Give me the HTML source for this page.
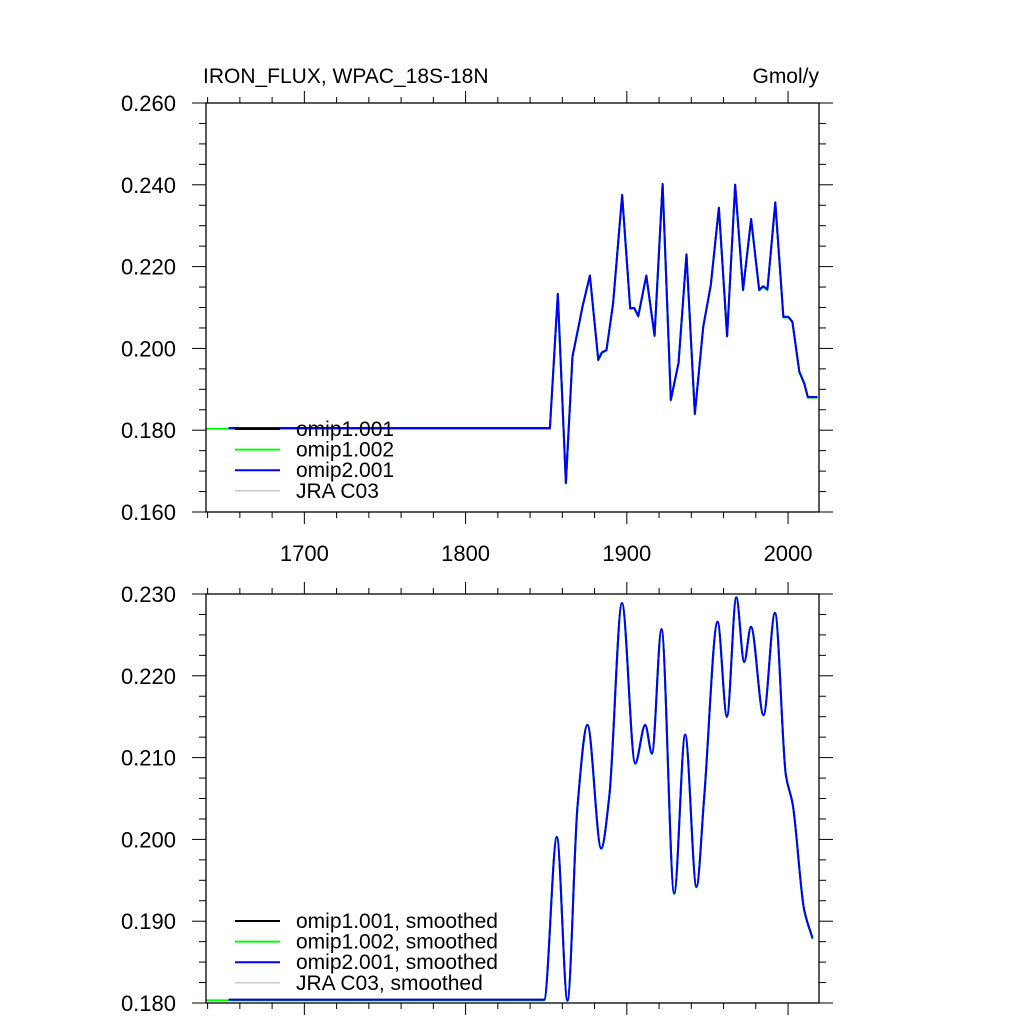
<!DOCTYPE html>
<html><head><meta charset="utf-8"><style>
html,body{margin:0;padding:0;background:#fff;}
svg{display:block;font-family:"Liberation Sans",Arial,sans-serif;}
</style></head><body>
<svg id="chart" width="1024" height="1024" viewBox="0 0 1024 1024" xmlns="http://www.w3.org/2000/svg">
<rect width="1024" height="1024" fill="#fff"/>
<text x="203" y="83" font-size="21">IRON_FLUX, WPAC_18S-18N</text>
<text x="819" y="83" font-size="21" text-anchor="end">Gmol/y</text>
<g id="top"></g><g id="bot"></g>
</svg>
<script>
const topYears=[1639,1653,1852.3,1857.2,1862.2,1866.3,1870.5,1872.5,1877.1,1882.3,1884.5,1887.4,1891.5,1897.1,1902.1,1904.6,1907.1,1912.1,1917.2,1922.2,1927.3,1932.1,1937.0,1942.2,1947.4,1952.1,1957.1,1962.2,1967.2,1972.1,1977.1,1982.1,1984.6,1987.2,1992.1,1997.1,2000.2,2002.7,2007,2010,2012.3,2018.2];
const topValues=[0.1805,0.1805,0.1805,0.2133,0.1671,0.1980,0.2062,0.2102,0.2178,0.1972,0.1990,0.1996,0.2110,0.2375,0.2098,0.2099,0.2079,0.2178,0.2031,0.2402,0.1874,0.1965,0.2230,0.1840,0.2053,0.2155,0.2344,0.2030,0.2400,0.2143,0.2316,0.2143,0.2152,0.2144,0.2357,0.2077,0.2077,0.2065,0.1943,0.1915,0.1881,0.1881];
const botYears=[1639,1653,1848.7,1856.6,1863.2,1869.4,1875.6,1884.1,1889.1,1897.0,1905.2,1911.4,1915.6,1921.5,1929.4,1936.2,1943.2,1948,1956.3,1962.1,1967.9,1972.8,1977,1984.8,1991.9,1998.7,2002.8,2010,2015.2];
const botValues=[0.1804,0.1804,0.1804,0.2003,0.1803,0.2040,0.2140,0.1989,0.2052,0.2289,0.2093,0.2140,0.2105,0.2257,0.1934,0.2128,0.1942,0.2052,0.2266,0.2150,0.2296,0.2217,0.2260,0.2152,0.2277,0.2078,0.2044,0.1914,0.1879];
const xTicks=[1700,1800,1900,2000];
const topYTicks=[0.160,0.180,0.200,0.220,0.240,0.260];
const botYTicks=[0.180,0.190,0.200,0.210,0.220,0.230];
const topLegend=["omip1.001","omip1.002","omip2.001","JRA C03"];
const botLegend=["omip1.001, smoothed","omip1.002, smoothed","omip2.001, smoothed","JRA C03, smoothed"];
const colors=["#000","#00ff00","#0000ff","#c8c8c8"];
const NS="http://www.w3.org/2000/svg";
const X0=206,X1=819,YMIN=1639,YMAX=2019.2;
function xs(y){return X0+(y-YMIN)/(YMAX-YMIN)*(X1-X0);}
function mk(p,tag,at){const e=document.createElementNS(NS,tag);for(const k in at)e.setAttribute(k,at[k]);p.appendChild(e);return e;}
function monoPath(pts){
  const n=pts.length;const dx=[],s=[];
  for(let i=0;i<n-1;i++){dx.push(pts[i+1][0]-pts[i][0]);s.push((pts[i+1][1]-pts[i][1])/dx[i]);}
  const m=[s[0]];
  for(let i=1;i<n-1;i++){if(s[i-1]*s[i]<=0)m.push(0);else{const w1=2*dx[i]+dx[i-1],w2=dx[i]+2*dx[i-1];m.push((w1+w2)/(w1/s[i-1]+w2/s[i]));}}
  m.push(s[n-2]);
  let d="M"+pts[0][0]+","+pts[0][1];
  for(let i=0;i<n-1;i++){const h=dx[i]/3;
    d+=" C"+(pts[i][0]+h)+","+(pts[i][1]+m[i]*h)+" "+(pts[i+1][0]-h)+","+(pts[i+1][1]-m[i+1]*h)+" "+pts[i+1][0]+","+pts[i+1][1];}
  return d;}
function panel(g,T,B,vmin,vmax,yt,minorStep,years,vals,smooth,legend,legY,showXLabels){
  const ys=v=>B-(v-vmin)/(vmax-vmin)*(B-T);
  [0,1,2].forEach(s=>{
    let pts=[];years.forEach((yr,i)=>{if(s!==1&&yr<1653)return;pts.push([xs(yr),ys(vals[i])+(s===1?0.6:0)]);});
    const d=smooth?monoPath(pts):"M"+pts.map(p=>p[0]+","+p[1]).join(" L");
    const p=mk(g,"path",{d:d,fill:"none",stroke:colors[s],"stroke-width":2,"stroke-linejoin":"round"});
    
    
  });
  const f=mk(g,"rect",{x:X0,y:T,width:X1-X0,height:B-T,fill:"none",stroke:"#000","stroke-width":1.3});
  
  
  for(let yr=1640;yr<=2019;yr+=20){const x=xs(yr);const maj=yr%100===0;const L=maj?12:6;
    mk(g,"line",{x1:x,x2:x,y1:T,y2:T-L,stroke:"#000","stroke-width":1});
    mk(g,"line",{x1:x,x2:x,y1:B,y2:B+L,stroke:"#000","stroke-width":1});}
  if(showXLabels) xTicks.forEach(t=>{const e=mk(g,"text",{x:xs(t),y:B+49,"font-size":22,"text-anchor":"middle"});e.textContent=t;
    
    });
  for(let v=vmin;v<=vmax+1e-9;v+=minorStep){const y=ys(v);const maj=yt.some(t=>Math.abs(t-v)<1e-7);const L=maj?14:7;
    mk(g,"line",{x1:X0,x2:X0-L,y1:y,y2:y,stroke:"#000","stroke-width":1});
    mk(g,"line",{x1:X1,x2:X1+L,y1:y,y2:y,stroke:"#000","stroke-width":1});}
  yt.forEach(t=>{const e=mk(g,"text",{x:176,y:ys(t)+8,"font-size":22,"text-anchor":"end"});e.textContent=t.toFixed(3);
    
    });
  legend.forEach((s,i)=>{const y=legY+i*20.6;
    const l=mk(g,"line",{x1:235,x2:280,y1:y,y2:y,stroke:colors[i],"stroke-width":i===3?1.5:2});
    
    
    const e=mk(g,"text",{x:296,y:y+7,"font-size":21});e.textContent=s;
    
    });
}
panel(document.getElementById('top'),103,512,0.16,0.26,topYTicks,0.005,topYears,topValues,false,topLegend,429,true);
panel(document.getElementById('bot'),594,1003,0.18,0.23,botYTicks,0.0025,botYears,botValues,true,botLegend,921,false);
</script>
</body></html>
